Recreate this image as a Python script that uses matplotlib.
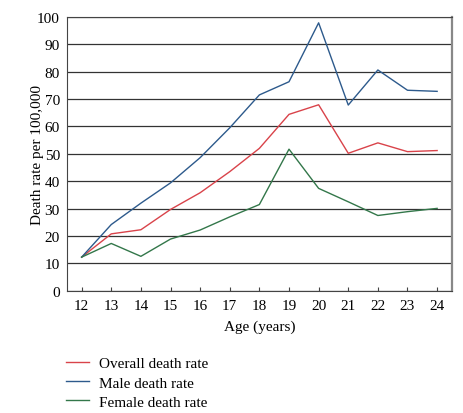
import numpy as np
import matplotlib.pyplot as plt

plt.rcParams['font.family'] = ['Liberation Serif', 'DejaVu Serif']

ages = [12, 13, 14, 15, 16, 17, 18, 19, 20, 21, 22, 23, 24]
overall = [12.3, 20.8, 22.3, 29.7, 35.8, 43.5, 52.0, 64.4, 67.9, 50.2, 54.0, 50.8, 51.2]
male = [12.3, 24.2, 32.0, 39.4, 48.6, 59.5, 71.5, 76.3, 97.8, 67.8, 80.6, 73.2, 72.8]
female = [12.3, 17.3, 12.6, 18.9, 22.2, 27.0, 31.5, 51.7, 37.4, 32.5, 27.5, 28.9, 30.1]

fig = plt.figure(figsize=(4.64, 4.14), dpi=100)
ax = fig.add_axes([0.144, 0.295, 0.83, 0.662])

ax.plot(ages, overall, color='#d9434a', lw=1.0, label='Overall death rate')
ax.plot(ages, male, color='#2d5a8c', lw=1.0, label='Male death rate')
ax.plot(ages, female, color='#33774a', lw=1.0, label='Female death rate')

ax.set_xlim(11.5, 24.5)
ax.set_ylim(0, 100)
ax.set_yticks(np.arange(0, 101, 10))
ax.set_xticks(ages)
ax.yaxis.grid(True, color='#333333', lw=0.9)
ax.set_axisbelow(True)
for s in ['left', 'bottom', 'top']:
    ax.spines[s].set_color('#444444')
ax.spines['right'].set_color('#888888')
ax.spines['right'].set_linewidth(1.6)
ax.tick_params(axis='y', length=0, labelsize=11, pad=5)
ax.tick_params(axis='x', direction='in', length=3, labelsize=11, pad=6, color='#444444')

ax.set_xlabel('Age (years)', fontsize=11, labelpad=5)
ax.set_ylabel('Death rate per 100,000', fontsize=11)
ax.yaxis.set_label_coords(-0.058, 0.5)

ax.legend(loc='upper left', bbox_to_anchor=(-0.003, -0.24), frameon=False,
          fontsize=11, handlelength=1.5, handletextpad=0.7, labelspacing=0.36,
          borderaxespad=0, borderpad=0)

fig.savefig('out.png', dpi=100)
